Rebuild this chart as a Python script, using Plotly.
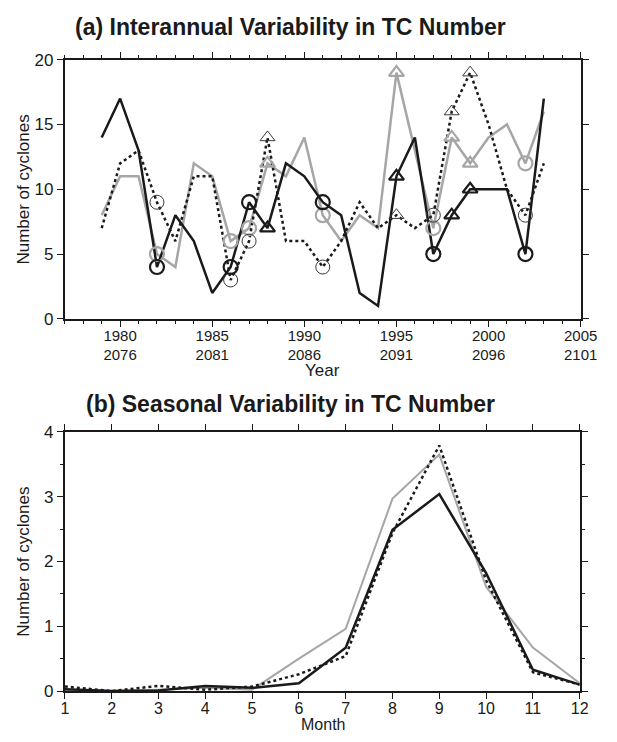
import plotly.graph_objects as go

# ---------------- data ----------------
years = list(range(1979, 2004))
obs = [14, 17, 13, 4, 8, 6, 2, 4, 9, 7, 12, 11, 9, 8, 2, 1, 11, 14, 5, 8, 10, 10, 10, 5, 17]          # black solid
ctl = [8, 11, 11, 5, 4, 12, 11, 6, 7, 12, 11, 14, 8, 6, 8, 7, 19, 13, 7, 14, 12, 14, 15, 12, 16]       # gray solid
fut = [7, 12, 13, 9, 6, 11, 11, 3, 6, 14, 6, 6, 4, 6, 9, 7, 8, 7, 8, 16, 19, 15, 10, 8, 12]            # dotted
elnino_years = [1982, 1986, 1987, 1991, 1997, 2002]
lanina_years = [1988, 1995, 1998, 1999]

year_ticks = [1980, 1985, 1990, 1995, 2000, 2005]
future_ticks = ["2076", "2081", "2086", "2091", "2096", "2101"]

months = list(range(1, 13))
obs_m = [0.03, 0.0, 0.01, 0.08, 0.05, 0.12, 0.67, 2.49, 3.04, 1.82, 0.33, 0.10]
ctl_m = [0.02, 0.0, 0.02, 0.05, 0.02, 0.50, 0.96, 2.97, 3.65, 1.61, 0.67, 0.12]
fut_m = [0.07, 0.0, 0.08, 0.02, 0.07, 0.26, 0.54, 2.44, 3.79, 1.71, 0.29, 0.10]

# ---------------- style ----------------
W, H = 617, 742
BLACK = "#1a1a1a"
GRAY = "#a6a6a6"
FONT = "Liberation Sans, Arial, sans-serif"

def px_x(p):
    return p / W

def px_y(p):
    return 1 - p / H

top_dom = [px_y(318), px_y(52)]
bot_dom = [px_y(700), px_y(434)]
x_dom = [px_x(63), px_x(597)]

fig = go.Figure()

def pick(vals, sel):
    return [vals[years.index(y)] for y in sel]

# top panel lines
fig.add_trace(go.Scatter(x=years, y=ctl, mode="lines", line=dict(color=GRAY, width=2.5),
                         xaxis="x", yaxis="y", showlegend=False))
fig.add_trace(go.Scatter(x=years, y=fut, mode="lines", line=dict(color=BLACK, width=2.5, dash="dot"),
                         xaxis="x", yaxis="y", showlegend=False))
fig.add_trace(go.Scatter(x=years, y=obs, mode="lines", line=dict(color=BLACK, width=2.5),
                         xaxis="x", yaxis="y", showlegend=False))

# markers
for vals, col, lw in [(ctl, GRAY, 2.2), (fut, "#3a3a3a", 1.0), (obs, BLACK, 2.2)]:
    fig.add_trace(go.Scatter(x=elnino_years, y=pick(vals, elnino_years), mode="markers",
                             marker=dict(symbol="circle-open", size=14, color=col, line=dict(width=lw, color=col)),
                             xaxis="x", yaxis="y", showlegend=False))
    fig.add_trace(go.Scatter(x=lanina_years, y=pick(vals, lanina_years), mode="markers",
                             marker=dict(symbol="triangle-up-open", size=13, color=col, line=dict(width=lw, color=col)),
                             xaxis="x", yaxis="y", showlegend=False))

# bottom panel
fig.add_trace(go.Scatter(x=months, y=ctl_m, mode="lines", line=dict(color=GRAY, width=2),
                         xaxis="x2", yaxis="y2", showlegend=False))
fig.add_trace(go.Scatter(x=months, y=fut_m, mode="lines", line=dict(color=BLACK, width=2.5, dash="dot"),
                         xaxis="x2", yaxis="y2", showlegend=False))
fig.add_trace(go.Scatter(x=months, y=obs_m, mode="lines", line=dict(color=BLACK, width=2.5),
                         xaxis="x2", yaxis="y2", showlegend=False))

tickfont = dict(family=FONT, size=17, color=BLACK)
yearfont = dict(family=FONT, size=15, color=BLACK)
common_axis = dict(showline=True, linecolor=BLACK, linewidth=2.2, mirror="allticks",
                   ticks="outside", tickcolor=BLACK, tickwidth=1.2, showgrid=False,
                   zeroline=False)

year_text = [f"{a}<br>{b}" for a, b in zip(year_ticks, future_ticks)]

fig.update_layout(
    width=W, height=H,
    margin=dict(l=0, r=0, t=0, b=0),
    paper_bgcolor="white", plot_bgcolor="white",
    showlegend=False,
    xaxis=dict(domain=x_dom, anchor="y", range=[1977, 2005],
               tickmode="array", tickvals=year_ticks, ticktext=year_text,
               ticklen=6, ticklabelstandoff=-4, tickfont=yearfont,
               minor=dict(dtick=1, tick0=1977, ticklen=3, ticks="outside", tickcolor=BLACK, tickwidth=1),
               **common_axis),
    yaxis=dict(domain=top_dom, anchor="x", range=[0, 20], tickmode="array", tickvals=[0, 5, 10, 15, 20],
               ticklen=6, tickfont=tickfont, **common_axis),
    xaxis2=dict(domain=[px_x(63), px_x(596)], anchor="y2", range=[1, 12], tickmode="array", tickvals=months,
                ticklen=6, ticklabelstandoff=-4, tickfont=dict(family=FONT, size=16, color=BLACK), **common_axis),
    yaxis2=dict(domain=bot_dom, anchor="x2", range=[0, 4], tickmode="array", tickvals=[0, 1, 2, 3, 4],
                ticklen=6, tickfont=tickfont,
                minor=dict(dtick=0.5, tick0=0, ticklen=3, ticks="outside", tickcolor=BLACK, tickwidth=1),
                **common_axis),
)

ann = [
    dict(text="<b>(a) Interannual Variability in TC Number</b>", x=px_x(297), y=px_y(18), size=23),
    dict(text="<b>(b) Seasonal Variability in TC Number</b>", x=px_x(297), y=px_y(405), size=23),
    dict(text="Year", x=px_x(330), y=px_y(371), size=17),
    dict(text="Month", x=px_x(330), y=px_y(734), size=16),
]
for a in ann:
    fig.add_annotation(text=a["text"], x=a["x"], y=a["y"], xref="paper", yref="paper",
                       showarrow=False, xanchor="center", yanchor="middle",
                       font=dict(family=FONT, size=a["size"], color=BLACK))
for yc in [185, 567]:
    fig.add_annotation(text="Number of cyclones", x=px_x(20), y=px_y(yc), xref="paper", yref="paper",
                       showarrow=False, textangle=-90, xanchor="center", yanchor="middle",
                       font=dict(family=FONT, size=17, color=BLACK))

fig.write_html("out.html", config={"displayModeBar": False})

# remove default page margin so the figure sits at the window origin
with open("out.html", "r", encoding="utf-8") as f:
    html = f.read()
html = html.replace("<head>", "<head><style>html,body{margin:0;padding:0;overflow:hidden;}</style>", 1)
with open("out.html", "w", encoding="utf-8") as f:
    f.write(html)
